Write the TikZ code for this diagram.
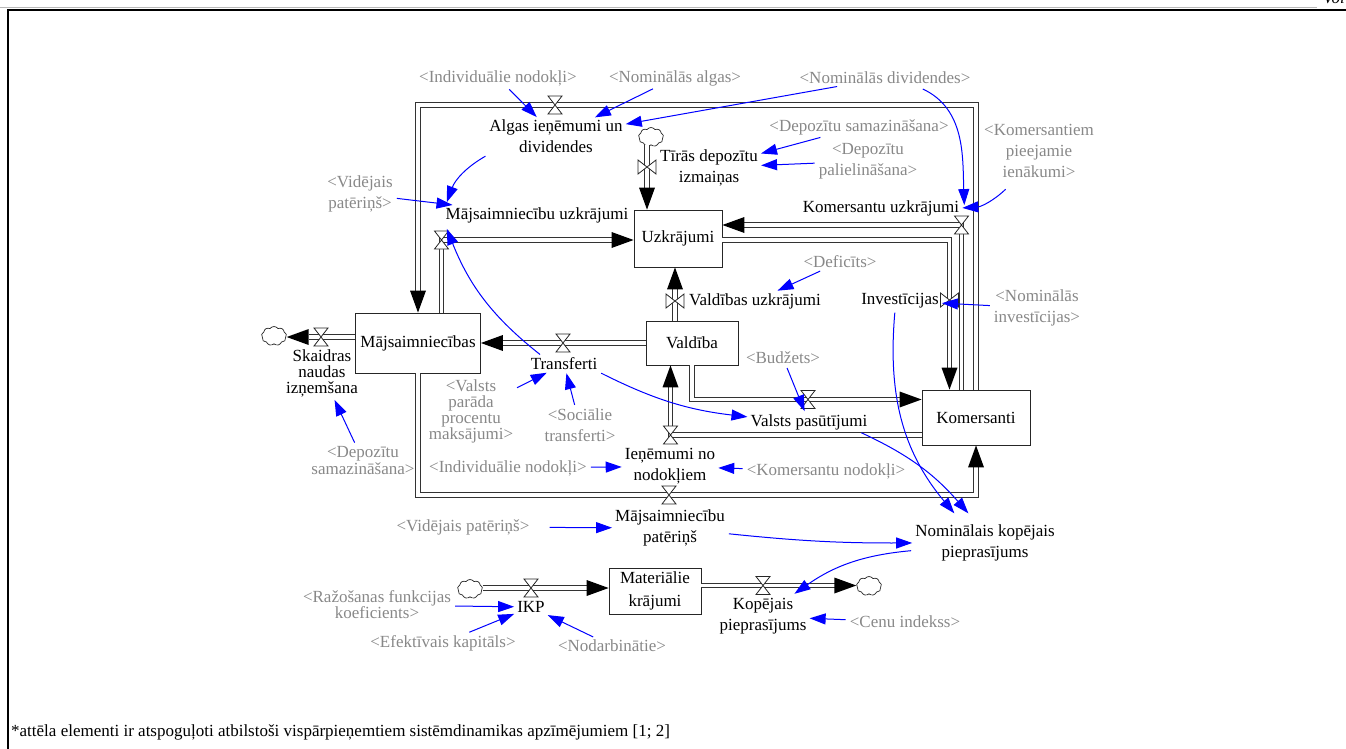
\documentclass[tikz,border=0pt]{standalone}
\usepackage{fontspec}
\setmainfont{Liberation Serif}
\usetikzlibrary{arrows.meta,shapes.symbols,calc}
\definecolor{shgray}{RGB}{136,136,136}
\definecolor{infblue}{RGB}{0,0,255}
\tikzset{
  valve/.pic={\draw[black!85, line width=0.8pt, fill=white] (-7,9) -- (7,9) -- (-7,-9) -- (7,-9) -- cycle;},
  pipehead/.pic={\fill[black] (0,0) -- (-22,8) -- (-22,-8) -- cycle;}
}
\begin{document}
\begin{tikzpicture}[x=1pt,y=1pt,
  every node/.style={font=\fontsize{17}{21}\selectfont},
  tight/.style={font=\fontsize{17}{16}\selectfont},
  stock/.style={draw=black!85, line width=0.8pt, fill=white, rectangle, inner sep=0pt},
  var/.style={align=center, inner sep=2pt},
  shadowvar/.style={align=center, inner sep=2pt, text=shgray},
  pipe/.style={draw=black!80, line width=0.9pt, double=white, double distance=3.6pt},
  infl/.style={draw=infblue, line width=1pt, -{Triangle[length=16pt,width=11pt]}, shorten <=2pt, shorten >=1pt},
  cloudy/.style={cloud, cloud puffs=9, cloud puff arc=110, aspect=1.35, draw=black!85, line width=0.7pt, fill=white, minimum width=25pt, minimum height=19pt, inner sep=0pt}
]
\useasboundingbox (0,0) rectangle (1346,-749);

% page frame
\draw[shgray!60, line width=0.5pt] (0,-7.5) -- (1317,-7.5);
\draw[black, line width=2pt] (1346,-10.5) -- (8,-10.5) -- (8,-749);
\node[anchor=base west, inner sep=0pt, font=\itshape\fontsize{17}{21}\selectfont] (vol) at (1323,-4) {Vol};

% stocks
\node[stock, minimum width=88pt, minimum height=57pt] (uzkr) at (678,-238.5) {Uzkrājumi};
\node[stock, minimum width=125pt, minimum height=60pt] (mh) at (418,-343) {Mājsaimniecības};
\node[stock, minimum width=92pt, minimum height=44pt] (vald) at (692,-343) {Valdība};
\node[stock, minimum width=108pt, minimum height=55pt] (komers) at (976,-417.5) {Komersanti};
\node[stock, minimum width=92pt, minimum height=46pt, align=center, font=\fontsize{17}{23}\selectfont] (mater) at (655,-591) {Materiālie\\krājumi};

% sources and sinks
\node[cloudy] (cl1) at (651,-137) {};
\node[cloudy] (cl2) at (274,-336) {};
\node[cloudy] (cl3) at (470,-589) {};
\node[cloudy] (cl4) at (869,-586) {};

% pipe corners
\coordinate (aTR) at (976,-105);
\coordinate (aTL) at (418,-105);
\coordinate (bBL) at (418,-495);
\coordinate (bBR) at (976,-495);
\coordinate (cC) at (441.5,-240);
\coordinate (dX) at (647,0);
\coordinate (eC) at (961.5,-225);
\coordinate (fC) at (949.5,-240);
\coordinate (gX) at (675,0);
\coordinate (iC) at (692,-399.5);
\coordinate (jC) at (670.5,-435);
\coordinate (kY) at (0,-337);
\coordinate (lY) at (0,-588);
\coordinate (mY) at (0,-585.5);

% wages and dividends
\draw[pipe] (komers.north) -- (aTR) -- (aTL) -- ($(aTL |- mh.north)+(0,20)$);
\pic at (555,-105) {valve};
\pic[rotate=-90] at (aTL |- mh.north) {pipehead};

% household consumption
\draw[pipe] (mh.south) -- (bBL) -- (bBR) -- ($(komers.south)+(0,-20)$);
\pic at (669,-495) {valve};
\pic[rotate=90] at (komers.south) {pipehead};

% household savings
\draw[pipe] (mh.north -| cC) -- (cC) -- ($(cC -| uzkr.west)+(-20,0)$);
\pic at (cC) {valve};
\pic at (cC -| uzkr.west) {pipehead};

% net deposit change
\draw[pipe] (cl1.south -| dX) -- ($(dX |- uzkr.north)+(0,20)$);
\pic[rotate=90] at (647,-167) {valve};
\pic[rotate=-90] at (dX |- uzkr.north) {pipehead};

% firm savings
\draw[pipe] (komers.north -| eC) -- (eC) -- ($(eC -| uzkr.east)+(20,0)$);
\pic at (eC) {valve};
\pic[rotate=180] at (eC -| uzkr.east) {pipehead};

% investment
\draw[pipe] (fC -| uzkr.east) -- (fC) -- ($(fC |- komers.north)+(0,20)$);
\pic[rotate=90] at (949.5,-300) {valve};
\pic[rotate=-90] at (fC |- komers.north) {pipehead};

% government savings
\draw[pipe] (vald.north -| gX) -- ($(gX |- uzkr.south)+(0,-20)$);
\pic[rotate=90] at (675,-301) {valve};
\pic[rotate=90] at (gX |- uzkr.south) {pipehead};

% transfers
\draw[pipe] (vald.west) -- ($(mh.east)+(20,0)$);
\pic at (563,-343) {valve};
\pic[rotate=180] at (mh.east) {pipehead};

% government orders
\draw[pipe] (vald.south) -- (iC) -- ($(iC -| komers.west)+(-20,0)$);
\pic at (808,-399.5) {valve};
\pic at (iC -| komers.west) {pipehead};

% tax revenue
\draw[pipe] (jC -| komers.west) -- (jC) -- ($(jC |- vald.south)+(0,-20)$);
\pic at (jC) {valve};
\pic[rotate=90] at (jC |- vald.south) {pipehead};

% cash withdrawal
\draw[pipe] (mh.west |- kY) -- ($(cl2.east |- kY)+(22,0)$);
\pic at (321,-337) {valve};
\pic[rotate=180] at (cl2.east |- kY) {pipehead};

% GDP
\draw[pipe] (cl3.east |- lY) -- ($(mater.west |- lY)+(-20,0)$);
\pic at (531,-588) {valve};
\pic at (mater.west |- lY) {pipehead};

% aggregate demand
\draw[pipe] (mater.east |- mY) -- ($(cl4.west |- mY)+(-20,0)$);
\pic at (763,-585.5) {valve};
\pic at (cl4.west |- mY) {pipehead};

% flow and auxiliary variables
\node[var] (algas) at (556,-136.5) {Algas ieņēmumi un\\dividendes};
\node[var] (mhUzk) at (537,-215) {Mājsaimniecību uzkrājumi};
\node[var] (tiras) at (709,-167.5) {Tīrās depozītu\\izmaiņas};
\node[var] (komUzk) at (881,-208) {Komersantu uzkrājumi};
\node[var] (invest) at (900,-301) {Investīcijas};
\node[var] (valdUzk) at (755,-301) {Valdības uzkrājumi};
\node[var] (transf) at (564,-364) {Transferti};
\node[var] (valstsPas) at (809,-422) {Valsts pasūtījumi};
\node[var] (ienem) at (670,-466.5) {Ieņēmumi no\\nodokļiem};
\node[var, tight] (skaidras) at (322,-373) {Skaidras\\naudas\\izņemšana};
\node[var] (mhPat) at (670,-528) {Mājsaimniecību\\patēriņš};
\node[var] (nomKop) at (985,-542.5) {Nominālais kopējais\\pieprasījums};
\node[var] (ikp) at (531,-607) {IKP};
\node[var] (kopPiep) at (763,-616.5) {Kopējais\\pieprasījums};

% shadow variables
\node[shadowvar] (gIndivA) at (498,-78) {<Individuālie nodokļi>};
\node[shadowvar] (gNomAlg) at (675,-78) {<Nominālās algas>};
\node[shadowvar] (gNomDiv) at (885,-78) {<Nominālās dividendes>};
\node[shadowvar] (gDepSamA) at (859,-127) {<Depozītu samazināšana>};
\node[shadowvar] (gDepPal) at (868,-161) {<Depozītu\\palielināšana>};
\node[shadowvar] (gKomPie) at (1039,-151) {<Komersantiem\\pieejamie\\ienākumi>};
\node[shadowvar] (gVidPatA) at (360,-194) {<Vidējais\\patēriņš>};
\node[shadowvar] (gDef) at (840,-262) {<Deficīts>};
\node[shadowvar] (gNomInv) at (1037,-308) {<Nominālās\\investīcijas>};
\node[shadowvar] (gBudz) at (783,-358) {<Budžets>};
\node[shadowvar, tight] (gValPar) at (471,-411) {<Valsts\\parāda\\procentu\\maksājumi>};
\node[shadowvar] (gSoc) at (580,-425.5) {<Sociālie\\transferti>};
\node[shadowvar, font=\fontsize{17}{15}\selectfont] (gDepSamB) at (363,-460.5) {<Depozītu\\samazināšana>};
\node[shadowvar] (gIndivB) at (508,-468) {<Individuālie nodokļi>};
\node[shadowvar] (gKomNod) at (826,-471) {<Komersantu nodokļi>};
\node[shadowvar] (gVidPatB) at (463,-527) {<Vidējais patēriņš>};
\node[shadowvar, tight] (gRazos) at (377,-605) {<Ražošanas funkcijas\\koeficients>};
\node[shadowvar] (gEfekt) at (443,-643) {<Efektīvais kapitāls>};
\node[shadowvar] (gNodarb) at (612,-646) {<Nodarbinātie>};
\node[shadowvar] (gCenu) at (905,-622) {<Cenu indekss>};

% influence links
\draw[infl] (gIndivA) -- (algas);
\draw[infl] (gNomAlg) -- (algas);
\draw[infl] (gNomDiv) -- (algas);
\draw[infl] ([xshift=36pt,yshift=-2pt]gNomDiv.south) to[out=-25,in=92] ([xshift=3pt,yshift=-8pt]komUzk.north east);
\draw[infl] (gDepSamA) -- (tiras);
\draw[infl] (gDepPal) -- (tiras);
\draw[infl] ([xshift=-32pt,yshift=-8pt]gKomPie.south) to[bend left=20] (komUzk.east);
\draw[infl] (gVidPatA) -- (mhUzk);
\draw[infl] (algas.south west) to[bend right=20] ([xshift=3pt,yshift=2pt]mhUzk.north west);
\draw[infl] (gDef) -- (valdUzk);
\draw[infl] (gNomInv) -- (invest);
\draw[infl] (gBudz) -- (valstsPas);
\draw[infl] ([xshift=13pt]transf.north west) to[bend left=15] ([xshift=3pt,yshift=-3pt]mhUzk.south west);
\draw[infl] (transf.south east) to[bend right=10] ([yshift=5pt]valstsPas.west);
\draw[infl] (gValPar) -- (transf);
\draw[infl] (gSoc) -- (transf);
\draw[infl] (gDepSamB) -- (skaidras);
\draw[infl] (gIndivB) -- (ienem);
\draw[infl] (gKomNod) -- (ienem);
\draw[infl, shorten <=18pt] (gVidPatB) -- (mhPat);
\draw[infl] (mhPat) to[bend right=3] (nomKop);
\draw[infl] ([xshift=-5pt]invest.south) to[out=-95,in=130] ([xshift=-30pt,yshift=8pt]nomKop.north);
\draw[infl] ([xshift=-10pt]valstsPas.south east) to[bend left=12] ([xshift=-16pt,yshift=8pt]nomKop.north);
\draw[infl] ([yshift=-8pt]nomKop.west) to[bend right=15] ([xshift=-15pt,yshift=2pt]kopPiep.north east);
\draw[infl] (gCenu) -- (kopPiep);
\draw[infl] (gRazos) -- (ikp);
\draw[infl] (gEfekt) -- (ikp);
\draw[infl] (gNodarb) -- (ikp);

% footnote
\node[anchor=west, inner sep=0pt] (note) at (11,-732) {*attēla elementi ir atspoguļoti atbilstoši vispārpieņemtiem sistēmdinamikas apzīmējumiem [1; 2]};
\end{tikzpicture}
\end{document}
